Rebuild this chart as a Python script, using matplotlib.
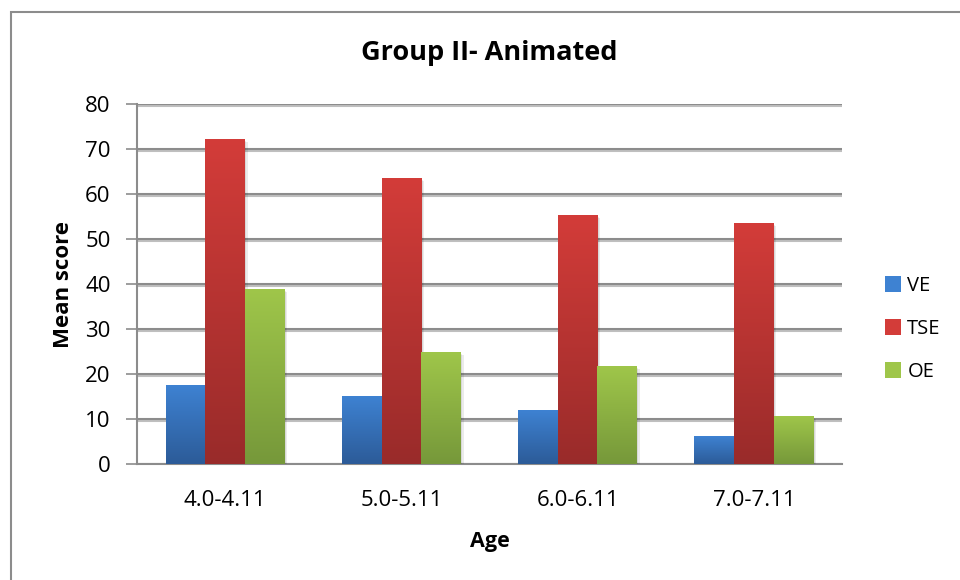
import numpy as np
import matplotlib.pyplot as plt
from matplotlib.patches import Patch, Rectangle
from matplotlib.colors import LinearSegmentedColormap
import matplotlib.patheffects as pe

plt.rcParams['font.family'] = ['Open Sans', 'DejaVu Sans']

# Mean scores per age band
ages = ["4.0-4.11", "5.0-5.11", "6.0-6.11", "7.0-7.11"]
ve = [17.4, 15.0, 11.9, 6.1]
tse = [72.1, 63.4, 55.2, 53.4]
oe = [38.7, 24.7, 21.6, 10.5]
series = ["VE", "TSE", "OE"]

# (top colour, bottom colour) for the shaded bars
shades = [("#3e82d2", "#2c5b98"), ("#d33c39", "#992b2a"), ("#9fc64a", "#76983a")]

fig = plt.figure(figsize=(9.6, 5.8), dpi=100)
ax = fig.add_axes([137/960, 1-464/580, (842-137)/960, (464-104)/580])

x = np.arange(len(ages))
w = 0.225
for k, vals in enumerate([ve, tse, oe]):
    cmap = LinearSegmentedColormap.from_list(series[k], [shades[k][1], shades[k][0]])
    grad = np.linspace(0, 1, 256).reshape(-1, 1)
    bars = ax.bar(x + (k-1)*w, vals, w, color=shades[k][0], zorder=3,
                  path_effects=[pe.SimplePatchShadow(offset=(2, -1.5), shadow_rgbFace='#000000', alpha=0.08),
                                pe.SimplePatchShadow(offset=(1, -1), shadow_rgbFace='#000000', alpha=0.08),
                                pe.Normal()])
    for b in bars:
        x0, h = b.get_x(), b.get_height()
        ax.imshow(grad, cmap=cmap, origin='lower', aspect='auto',
                  extent=[x0, x0 + b.get_width(), 0, h], zorder=4)

ax.set_xlim(-0.5, len(ages)-0.5)
ax.set_ylim(0, 80)
ax.set_yticks(range(0, 81, 10))
ax.set_xticks(x)
ax.set_xticklabels(ages, fontsize=16)
ax.tick_params(axis='y', labelsize=16, length=8, color='#8c8c8c', width=1.2, pad=11)
ax.tick_params(axis='x', length=0, pad=19)

ax.yaxis.grid(True, color='#8c8c8c', linewidth=1.5, zorder=1,
              path_effects=[pe.SimpleLineShadow(offset=(0, -1.5), alpha=0.25), pe.Normal()])
ax.set_axisbelow(True)
for s in ['top', 'right']:
    ax.spines[s].set_visible(False)
ax.spines['left'].set_color('#8c8c8c')
ax.spines['left'].set_linewidth(1.5)
ax.spines['bottom'].set_color('#8c8c8c')
ax.spines['bottom'].set_linewidth(1.5)

ax.set_ylabel("Mean score", fontsize=16, fontweight='bold', labelpad=8)
ax.set_xlabel("Age", fontsize=15.5, fontweight='bold', labelpad=14)
ax.set_title("Group II- Animated", fontsize=19.5, fontweight='bold', pad=32)

handles = [Patch(facecolor=shades[k][0], edgecolor='none') for k in range(3)]
fig.legend(handles, series, loc='center left', bbox_to_anchor=(867/960, 1-329/580),
           frameon=False, fontsize=14.5, handlelength=0.8, handleheight=0.8,
           handletextpad=0.3, labelspacing=1.15)

# chart frame
fig.patches.append(Rectangle((11/960, -0.1), 1.2, 1-12/580+0.1, transform=fig.transFigure,
                             fill=False, edgecolor='#8c8c8c', linewidth=1.5))

fig.savefig("out.png", dpi=100)
